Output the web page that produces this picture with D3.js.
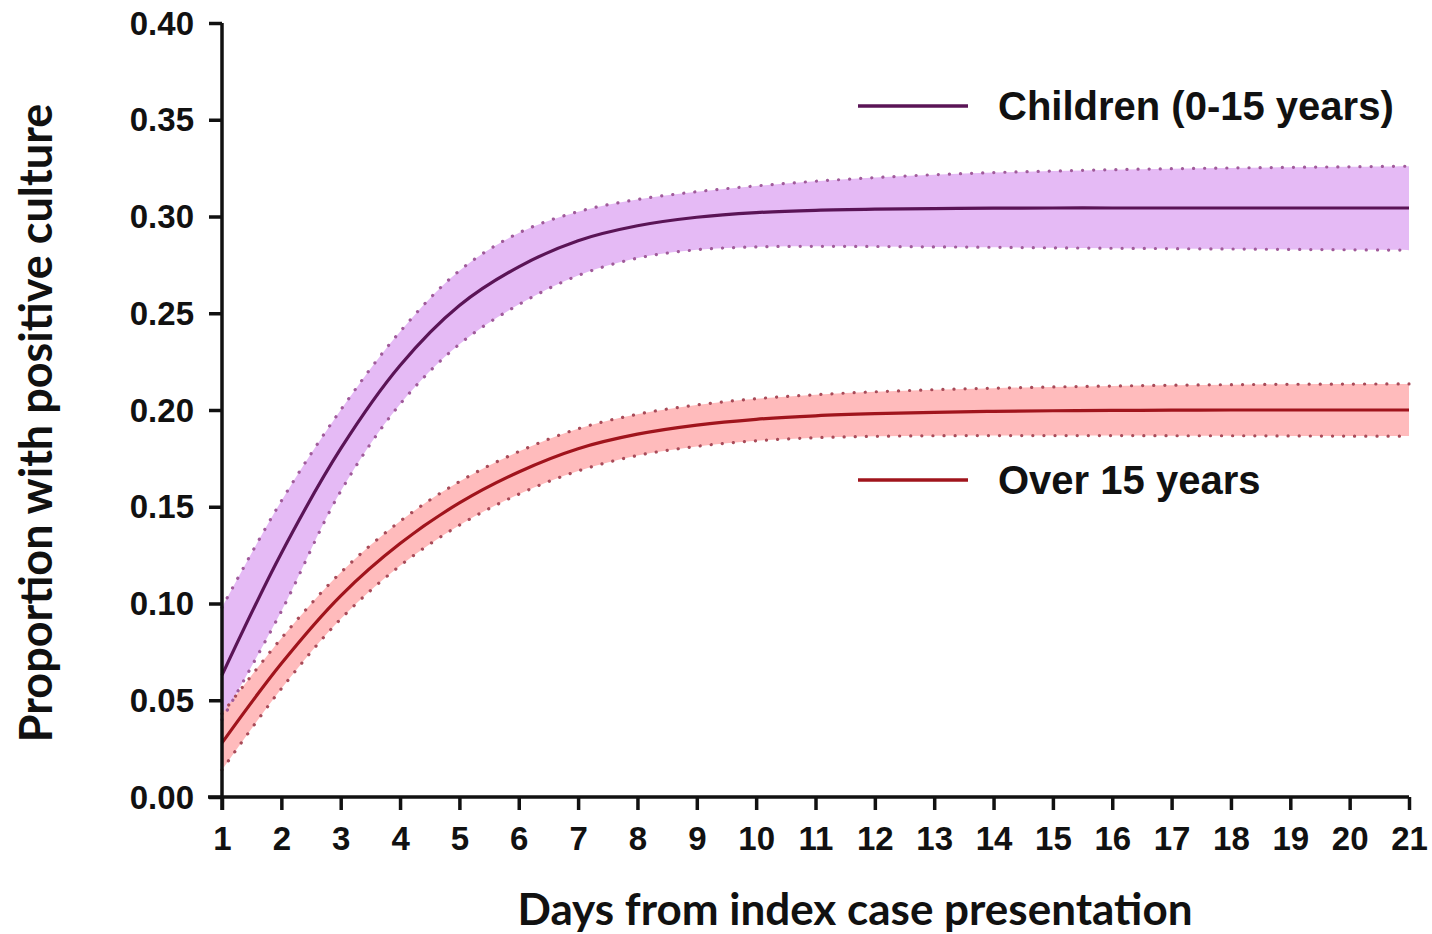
<!DOCTYPE html>
<html><head><meta charset="utf-8">
<script src="https://cdn.jsdelivr.net/npm/d3@7"></script>
<style>
html,body{margin:0;padding:0;background:#fff;}
svg{display:block;}
</style></head>
<body>
<svg id="chart" width="1432" height="934"></svg>
<script>
const days = [1,2,3,4,5,6,7,8,9,10,11,12,13,14,15,16,17,18,19,20,21];
const childMean  = [0.063,0.126,0.180,0.223,0.254,0.274,0.2875,0.2952,0.2996,0.302,0.3032,0.3038,0.3041,0.3043,0.3044,0.3044,0.3044,0.3044,0.3044,0.3044,0.3044];
const childUpper = [0.098,0.153,0.200,0.2405,0.272,0.2915,0.3025,0.3088,0.3128,0.3158,0.3182,0.3201,0.3216,0.3227,0.3235,0.3242,0.3247,0.3251,0.3254,0.3257,0.326];
const childLower = [0.040,0.096,0.158,0.203,0.234,0.2545,0.2695,0.2785,0.2828,0.2843,0.2846,0.2845,0.2843,0.2841,0.2838,0.2836,0.2834,0.2832,0.283,0.2828,0.2826];
const adultMean  = [0.028,0.069,0.104,0.131,0.152,0.168,0.180,0.1875,0.1922,0.1952,0.197,0.1981,0.1988,0.1993,0.1996,0.1998,0.1999,0.2,0.2,0.2,0.2];
const adultUpper = [0.043,0.082,0.116,0.1425,0.163,0.1785,0.1903,0.1978,0.2026,0.2058,0.2079,0.2094,0.2105,0.2113,0.2119,0.2124,0.2128,0.2131,0.2133,0.2134,0.2135];
const adultLower = [0.014,0.056,0.092,0.1195,0.1405,0.1565,0.1685,0.1765,0.1812,0.1841,0.1857,0.1864,0.1867,0.1868,0.1868,0.1868,0.1867,0.1867,0.1866,0.1865,0.1865];
const yTicks = [0,0.05,0.10,0.15,0.20,0.25,0.30,0.35,0.40];
const seriesNames = ["Children (0-15 years)","Over 15 years"];

const svg = d3.select("#chart");
const x = d3.scaleLinear().domain([1,21]).range([222,1409]);
const y = d3.scaleLinear().domain([0,0.4]).range([797,23]);

function band(upper, lower){
  return d3.area().x((d,i)=>x(days[i])).y0((d,i)=>y(lower[i])).y1((d,i)=>y(upper[i])).curve(d3.curveCatmullRom.alpha(0.5))(days);
}
function line(vals){
  return d3.line().x((d,i)=>x(days[i])).y((d,i)=>y(vals[i])).curve(d3.curveCatmullRom.alpha(0.5))(days);
}

const series = [
  {mean:childMean, up:childUpper, lo:childLower, fill:"#e5baf5", dot:"#a05a9a", stroke:"#5a1456"},
  {mean:adultMean, up:adultUpper, lo:adultLower, fill:"#ffbbbc", dot:"#a84a58", stroke:"#a0141c"}
];

const g = svg.append("g");
series.forEach(s=>{
  g.append("path").attr("d", band(s.up, s.lo)).attr("fill", s.fill);
});
series.forEach(s=>{
  [s.up, s.lo].forEach(v=>{
    g.append("path").attr("d", line(v)).attr("fill","none")
     .attr("stroke", s.dot).attr("stroke-width",3.2)
     .attr("stroke-linecap","round").attr("stroke-dasharray","0.1 11");
  });
});
series.forEach(s=>{
  g.append("path").attr("d", line(s.mean)).attr("fill","none")
   .attr("stroke", s.stroke).attr("stroke-width",3.2);
});

// axes
const yAxis = d3.axisLeft(y).tickValues(yTicks).tickFormat(d3.format(".2f")).tickSize(13).tickPadding(15);
const xAxis = d3.axisBottom(x).tickValues(days).tickFormat(d3.format("d")).tickSize(13).tickPadding(17);

const ya = svg.append("g").attr("transform","translate(222,0)").call(yAxis);
const xa = svg.append("g").attr("transform","translate(0,797)").call(xAxis);
[ya,xa].forEach(a=>{
  a.select(".domain").attr("stroke","#111").attr("stroke-width",3.5);
  a.selectAll(".tick line").attr("stroke","#111").attr("stroke-width",3.5);
});
ya.select(".domain").attr("d","M0,23V810");
xa.select(".domain").attr("d","M208,0H1409");
ya.selectAll(".tick text").attr("font-family","'Liberation Sans', Arial, sans-serif")
  .attr("font-weight","bold").attr("font-size",33).attr("fill","#111").attr("dy","0.34em");
xa.selectAll(".tick text").attr("font-family","'Liberation Sans', Arial, sans-serif")
  .attr("font-weight","bold").attr("font-size",33).attr("fill","#111");

// axis titles
svg.append("text").attr("x",855).attr("y",925).attr("text-anchor","middle")
  .attr("font-family","Lato, 'Open Sans', sans-serif").attr("font-weight","bold")
  .attr("font-size",44).attr("fill","#111").text("Days from index case presentation");
svg.append("text").attr("transform","translate(52,423) rotate(-90)").attr("text-anchor","middle")
  .attr("font-family","Lato, 'Open Sans', sans-serif").attr("font-weight","bold")
  .attr("font-size",45).attr("fill","#111").text("Proportion with positive culture");

// legend
const legY = [106, 480];
series.forEach((s,i)=>{
  svg.append("line").attr("x1",858).attr("x2",968).attr("y1",legY[i]).attr("y2",legY[i])
    .attr("stroke",s.stroke).attr("stroke-width",3.5);
  svg.append("text").attr("x",998).attr("y",legY[i]).attr("dy","0.36em")
    .attr("font-family","'Liberation Sans', Arial, sans-serif").attr("font-weight","bold")
    .attr("font-size",40).attr("fill","#111").text(seriesNames[i]);
});
</script>
</body></html>
